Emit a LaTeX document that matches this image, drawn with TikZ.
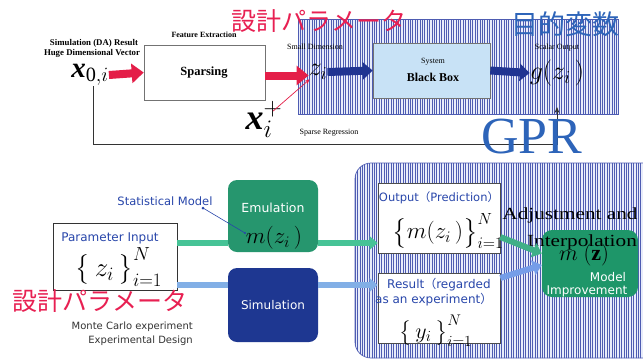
\RequirePackage{fix-cm}
\documentclass[tikz,border=0pt]{standalone}
\usepackage{amsmath}
\usepackage{fontspec}
\setmainfont{Liberation Serif}
\newfontfamily\jp{Noto Sans CJK JP}
\newfontfamily\dejavu{DejaVu Sans}
\usetikzlibrary{arrows.meta,patterns.meta}
\definecolor{jred}{RGB}{232,32,82}
\definecolor{arred}{RGB}{228,30,72}
\definecolor{jblue}{RGB}{45,100,185}
\definecolor{dblue}{RGB}{32,52,145}
\definecolor{stripebg}{RGB}{232,236,250}
\definecolor{stripefg}{RGB}{78,92,178}
\definecolor{bbfill}{RGB}{200,226,246}
\definecolor{emgreen}{RGB}{38,150,110}
\definecolor{mgreen}{RGB}{30,150,105}
\definecolor{simblue}{RGB}{30,55,145}
\definecolor{tealline}{RGB}{70,195,150}
\definecolor{lbline}{RGB}{130,175,230}
\definecolor{sblue}{RGB}{40,70,170}
\newcommand{\bx}{\mbox{\bfseries\itshape x}}
\begin{document}
\begin{tikzpicture}[x=1pt,y=-1pt,
  txt/.style={inner sep=0pt},
  small/.style={txt, font=\fontsize{8}{9}\selectfont},
  smallb/.style={txt, font=\fontsize{8.8}{10}\selectfont\bfseries},
  jpred/.style={txt, text=jred, font=\jp\fontsize{25}{25}\selectfont},
  sanslbl/.style={txt, font=\dejavu\fontsize{12}{13}\selectfont},
  stripes/.style={fill=stripebg, postaction={pattern={Lines[angle=90,distance=2.4pt,line width=1pt]}, pattern color=stripefg}},
  fatred/.style={draw=arred, line width=8pt, -{Triangle[length=12pt,width=19pt]}},
  fatblue/.style={draw=dblue, line width=8pt, -{Triangle[length=10pt,width=17pt]}},
  plainbox/.style={draw=black!70, line width=0.6pt, fill=white, inner sep=0pt},
  roundbox/.style={rounded corners=9pt, inner sep=0pt},
  feed/.style={draw=black!80, line width=0.8pt},
  tealarr/.style={draw=tealline, line width=6pt},
  lbarr/.style={draw=lbline, line width=6pt}
]
\path[use as bounding box, fill=white] (0,0) rectangle (643,360);

% ---------- top striped region
\path[stripes] (298,19) rectangle (618,114);
\draw[stripefg, line width=0.7pt] (298,19) rectangle (618,114);

% ---------- bottom striped region
\begin{scope}
\clip (0,0) rectangle (643,360);
\path[stripes, rounded corners=16pt] (355,163) rectangle (690,358);
\draw[stripefg, line width=0.7pt, rounded corners=16pt] (355,163) rectangle (690,358);
\end{scope}

% ---------- top part
\node[smallb] (simda) at (94,43) {Simulation (DA) Result};
\node[smallb] (huge) at (92,53) {Huge Dimensional Vector};
\node[txt, font=\fontsize{29}{31}\selectfont] (x0) at (90,75) {$\bx_{\mathrm{0,}i}$};
\node[plainbox, draw=black!55, minimum width=121pt, minimum height=55pt] (sparse) at (204.5,72.5) {};
\node[txt, font=\fontsize{12.5}{14}\selectfont\bfseries] (sparset) at (204,73) {Sparsing};
\node[smallb, font=\fontsize{8}{9}\selectfont\bfseries] (feat) at (204,35) {Feature Extraction};

\node[small] (smalld) at (315,47) {Small Dimension};
\node[txt, font=\fontsize{26}{28}\selectfont] (zi) at (318,72) {$z_i$};

\node[draw=black!55, line width=0.6pt, fill=bbfill, minimum width=117pt, minimum height=55pt, inner sep=0pt] (bb) at (431.5,70.5) {};
\node[small] (system) at (433,62) {System};
\node[txt, font=\fontsize{12}{14}\selectfont\bfseries] (bbt) at (433,77) {Black Box};

\node[small] (scalar) at (557,48) {Scalar Output};
\node[txt, font=\fontsize{26}{28}\selectfont] (gz) at (557,73) {$g(z_i\,)$};

\node[txt, font=\fontsize{36}{38}\selectfont] (xp) at (264,119) {$\bx^{+}_{i}$};

\draw[fatred] (x0.east) -- (sparse.west);
\draw[fatred] ([yshift=-3pt]sparse.east) -- ([yshift=-3pt]sparse.east -| zi.west) ;
\draw[fatblue] (zi.east) -- (bb.west);
\draw[fatblue] (bb.east) -- (gz.west);
\draw[arred, line width=0.7pt, -{Stealth[length=5pt,width=4pt]}, shorten <=12pt, shorten >=11pt] (xp.center) -- (zi.center);

\coordinate (fbl) at (93,144);
\coordinate (gtip) at (557,107);
\draw[feed, -{Stealth[length=6pt,width=5pt]}] (x0.south -| fbl) -- (fbl) -| (gtip);
\node[small] (sparsereg) at (329,133) {Sparse Regression};

\node[txt, text=jblue, font=\fontsize{52}{52}\selectfont] (gpr) at (532,137) {GPR};

\node[jpred] (dp1) at (319,21) {設計パラメータ};
\node[txt, text=jblue, font=\jp\fontsize{27}{27}\selectfont] (mokuteki) at (565,24) {目的変数};

% ---------- bottom part
\node[plainbox, draw=black!80, minimum width=124pt, minimum height=67pt] (pin) at (115,256.5) {};
\node[sanslbl, text=sblue] (pint) at (110,238) {Parameter Input};
\node[txt, font=\fontsize{27}{29}\selectfont] (zset) at (119,267) {$\bigl\{\,z_i\,\bigr\}_{i=1}^{N}$};

\node[roundbox, fill=emgreen, minimum width=90pt, minimum height=72pt] (emu) at (273,216) {};
\node[sanslbl, text=white, font=\dejavu\fontsize{12.5}{13}\selectfont] (emut) at (273,208) {Emulation};
\node[txt, font=\fontsize{23}{25}\selectfont] (mzi) at (274,238) {$m(z_i\,)$};

\node[roundbox, fill=simblue, minimum width=90pt, minimum height=74pt] (sim) at (273,305) {};
\node[sanslbl, text=white] (simt) at (273,305) {Simulation};

\node[sanslbl, text=sblue, font=\dejavu\fontsize{11.5}{13}\selectfont] (stat) at (165,201) {Statistical Model};
\coordinate (statdot) at (203,208);
\coordinate (mzidot) at (245,233);
\draw[sblue, line width=0.6pt] (statdot) -- (mzidot);
\fill[sblue] (statdot) circle (1.5pt) (mzidot) circle (1.2pt);

\node[plainbox, minimum width=122pt, minimum height=70pt] (outb) at (439,218) {};
\node[sanslbl, text=sblue, font=\dejavu\fontsize{11.5}{13}\selectfont] (outt) at (439,198) {Output{\jp （}Prediction{\jp ）}};
\node[txt, font=\fontsize{23}{25}\selectfont] (mset) at (448,231) {$\bigl\{m(z_i\,)\bigr\}_{i=1}^{N}$};

\node[plainbox, minimum width=122pt, minimum height=70pt] (resb) at (439,308) {};
\node[sanslbl, text=sblue, anchor=west] (rest1) at (387,285) {Result{\jp （}regarded};
\node[sanslbl, text=sblue, anchor=west] (rest2) at (375,300) {as an experiment{\jp ）}};
\node[txt, font=\fontsize{22}{24}\selectfont] (yset) at (436,331) {$\bigl\{\,y_i\,\bigr\}_{i=1}^{N}$};

\node[roundbox, rounded corners=10pt, fill=mgreen, minimum width=96pt, minimum height=67pt] (mz) at (590,263.5) {};
\node[txt, font=\fontsize{22}{24}\selectfont] (mzt) at (584,255) {$m\ (\mathbf{z})$};
\node[sanslbl, text=white] (model) at (608,277) {Model};
\node[sanslbl, text=white] (impr) at (587,291) {Improvement};

\node[txt, font=\fontsize{17}{19}\selectfont] (adj) at (570,215) {\scalebox{1.25}[1]{Adjustment and}};
\node[txt, font=\fontsize{17}{19}\selectfont] (interp) at (582,242) {\scalebox{1.25}[1]{Interpolation}};

% connectors bottom
\draw[tealarr] ([yshift=13.5pt]pin.east) -- ([yshift=-27pt]emu.west);
\draw[tealarr, -{Triangle[length=8pt,width=13pt]}] ([yshift=-27pt]emu.east) -- ([yshift=-25pt]outb.west);
\draw[lbarr] ([yshift=-28.5pt]pin.east) -- (sim.west |- 0,285);
\draw[lbarr, -{Triangle[length=8pt,width=13pt]}] (sim.east |- 0,285) -- (resb.west |- 0,285);
\draw[draw=tealline!90!black, line width=6pt, -{Triangle[length=9pt,width=15pt]}] ([yshift=-19pt]outb.east) -- ([yshift=10pt]mz.west);
\draw[draw=lbline!90!blue, line width=6pt, -{Triangle[length=9pt,width=15pt]}] ([yshift=30pt]resb.east) -- ([yshift=-1.5pt]mz.west);

\node[jpred] (dp2) at (100,301) {設計パラメータ};
\node[txt, font=\dejavu\fontsize{10}{11}\selectfont, anchor=east, text=black!80] (mc) at (193,327) {Monte Carlo experiment};
\node[txt, font=\dejavu\fontsize{10}{11}\selectfont, anchor=east, text=black!80] (ed) at (193,341) {Experimental Design};
\end{tikzpicture}
\end{document}
